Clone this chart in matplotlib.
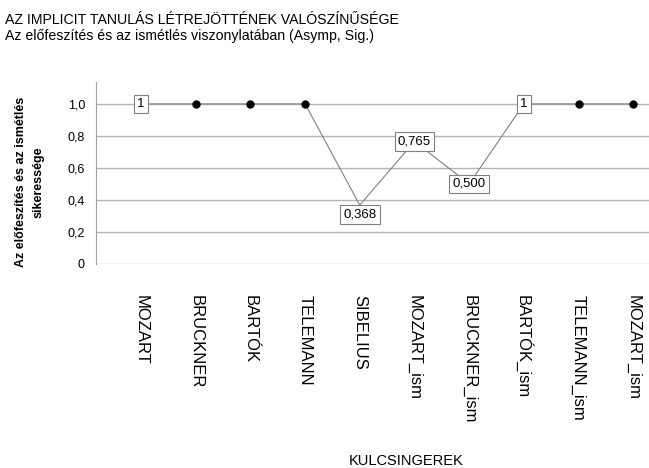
import matplotlib
matplotlib.use("Agg")
import matplotlib.pyplot as plt

plt.rcParams['font.family'] = ['Liberation Sans', 'DejaVu Sans']

categories = ["MOZART", "BRUCKNER", "BARTÓK", "TELEMANN", "SIBELIUS",
              "MOZART_ism", "BRUCKNER_ism", "BARTÓK_ism", "TELEMANN_ism", "MOZART_ism"]
values = [1.0, 1.0, 1.0, 1.0, 0.368, 0.765, 0.500, 1.0, 1.0, 1.0]
labels = ["1", None, None, None, "0,368", "0,765", "0,500", "1", None, None]
yticks = [0, 0.2, 0.4, 0.6, 0.8, 1.0]
yticklabels = ["0", "0,2", "0,4", "0,6", "0,8", "1,0"]

fig = plt.figure(figsize=(6.49, 4.68), dpi=100)
ax = fig.add_axes([0.148, 0.436, 0.897, 0.389])

x = list(range(len(categories)))
ax.plot(x, values, color="#808080", lw=0.8, zorder=3)
for xi, v, lab in zip(x, values, labels):
    if lab is None:
        ax.plot(xi, v, 'o', color='black', ms=5, zorder=4)
    else:
        dy = -7 if lab == "0,368" else 0
        ax.annotate(lab, (xi, v), xytext=(0, dy), textcoords='offset points',
                    ha='center', va='center', fontsize=9.5, zorder=5,
                    bbox=dict(boxstyle='square,pad=0.25', fc='white', ec='#808080', lw=0.8))

ax.set_ylim(0, 1.1375)
ax.set_xlim(-0.82, 9.82)
ax.set_yticks(yticks)
ax.set_yticklabels(yticklabels, fontsize=9)
ax.yaxis.grid(True, color='#b4b4b4', lw=1)
ax.set_axisbelow(True)
ax.set_xticks(x)
ax.set_xticklabels(categories, rotation=270, fontsize=12, ha='center', va='top')
ax.tick_params(axis='x', length=0, pad=22)
ax.tick_params(axis='y', length=0, pad=8)
for s in ['top', 'right', 'bottom']:
    ax.spines[s].set_visible(False)
ax.spines['left'].set_color('#a0a0a0')

fig.text(30 / 649, 1 - 182 / 468, "Az előfeszítés és az ismétlés\nsikeressége", fontsize=9,
         fontweight='bold', linespacing=1.6, rotation=90, ha='center', va='center',
         multialignment='center')

fig.text(0.008, 0.958, "AZ IMPLICIT TANULÁS LÉTREJÖTTÉNEK VALÓSZÍNŰSÉGE", fontsize=10.2, va='center')
fig.text(0.008, 0.924, "Az előfeszítés és az ismétlés viszonylatában (Asymp, Sig.)", fontsize=10.2, va='center')
fig.text(0.626, 0.016, "KULCSINGEREK", fontsize=10.5, ha='center', va='center')

fig.savefig("out.png", dpi=100)
